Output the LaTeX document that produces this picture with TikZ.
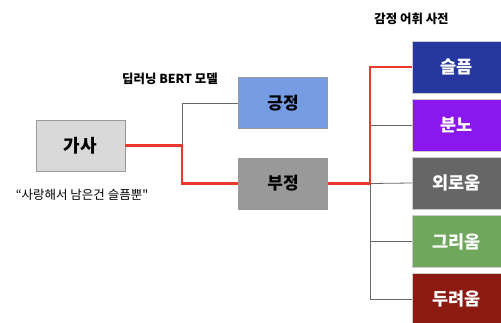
\documentclass[tikz,border=0pt]{standalone}
\usepackage{fontspec}
\newfontfamily\kr{Noto Sans CJK KR}
\definecolor{redline}{HTML}{E8392C}
\definecolor{gasafill}{HTML}{D9D9D9}
\definecolor{posfill}{HTML}{759CE3}
\definecolor{negfill}{HTML}{999999}
\definecolor{sadfill}{HTML}{2637A0}
\definecolor{angfill}{HTML}{8A18EE}
\definecolor{lonfill}{HTML}{666666}
\definecolor{misfill}{HTML}{6FA75C}
\definecolor{feafill}{HTML}{8C1A10}
\definecolor{thin}{HTML}{666666}
\tikzset{
  box/.style={draw=black!40, line width=0.8pt, minimum width=89pt, minimum height=51pt, inner sep=0pt, font=\kr\bfseries\fontsize{17}{20}\selectfont},
  emo/.style={draw=white!80!black, line width=0.6pt, minimum width=92pt, minimum height=52pt, inner sep=0pt, anchor=west, text=white, font=\kr\bfseries\fontsize{17.5}{20}\selectfont},
  redpath/.style={draw=redline, line width=2.8pt},
  thinpath/.style={draw=thin, line width=0.8pt},
  label/.style={font=\kr\bfseries\fontsize{12.4}{14}\selectfont, inner sep=0pt}
}
\begin{document}
\begin{tikzpicture}[x=1pt,y=-1pt]
\useasboundingbox (0,0) rectangle (501,322);
\clip (0,0) rectangle (501,322);
% nodes
\node[box, fill=gasafill, font=\kr\bfseries\fontsize{18}{21}\selectfont] (gasa) at (80.5,145.5) {가사};
\node[box, fill=posfill] (pos) at (283,103) {긍정};
\node[box, fill=negfill] (neg) at (283,183.5) {부정};
\node[emo, fill=sadfill] (sad) at (412,67) {\hspace*{-3pt}슬픔};
\node[emo, fill=angfill] (ang) at (412,125.5) {\hspace*{-3pt}분노};
\node[emo, fill=lonfill] (lon) at (412,183) {\hspace*{-3pt}외로움};
\node[emo, fill=misfill] (mis) at (412,241.5) {\hspace*{-3pt}그리움};
\node[emo, fill=feafill] (fea) at (412,299) {\hspace*{-3pt}두려움};
% labels
\node[label] (l1) at (170,79) {딥러닝 BERT 모델};
\node[label] (l2) at (411.5,18.5) {감정 어휘 사전};
\node[font=\kr\fontsize{12.5}{14}\selectfont, inner sep=0pt] (l3) at (82,195) {“사랑해서 남은건 슬픔뿐"};
% connectors
\coordinate (j1) at (182,145.5);
\coordinate (j2) at (370,183.5);
\draw[thinpath] (j1) |- (pos.west);
\draw[thinpath] (j2) |- (ang.west);
\draw[thinpath] (j2) -- (lon.west);
\draw[thinpath] (j2) |- (mis.west);
\draw[thinpath] (j2) |- (fea.west);
\draw[redpath] (gasa.east) -- (j1) |- (neg.west);
\draw[redpath] (neg.east) -- (j2) |- (sad.west);
\end{tikzpicture}
\end{document}
